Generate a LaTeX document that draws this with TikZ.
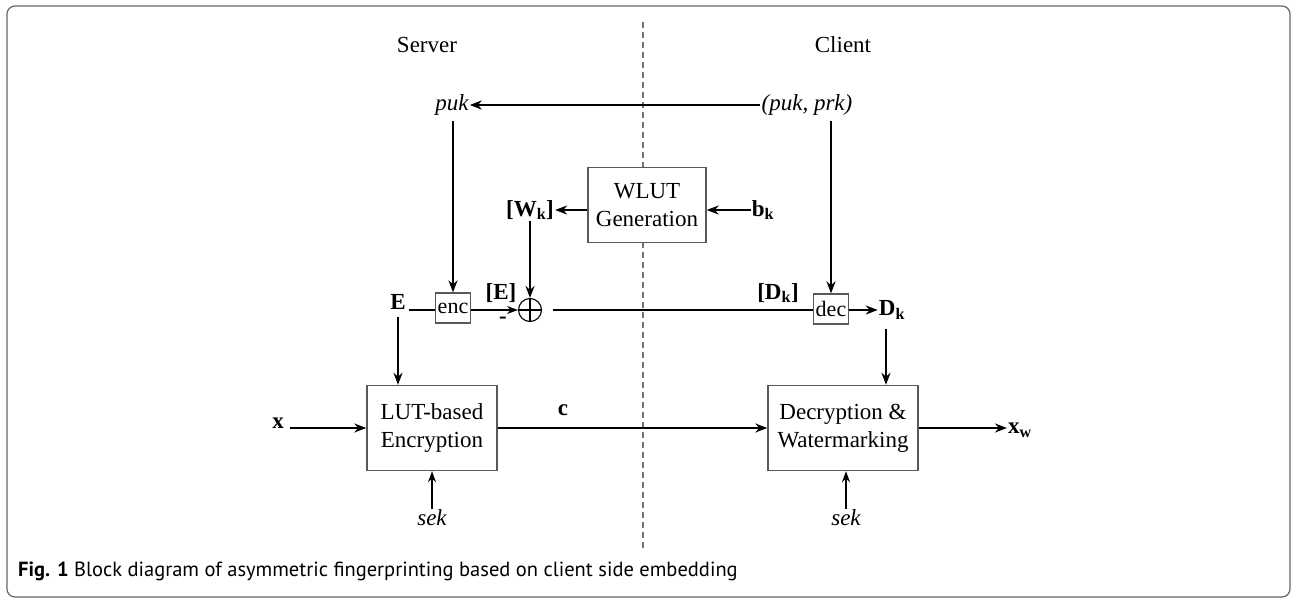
\documentclass[tikz,border=0pt]{standalone}
\usepackage{fontspec}
\setmainfont{Liberation Serif}
\newfontfamily\capfont{PT Sans}
\usetikzlibrary{arrows.meta}
\begin{document}
\begin{tikzpicture}[x=1pt,y=-1pt,
 lbl/.style={inner sep=1pt, font=\fontsize{23}{25}\selectfont},
 blbl/.style={inner sep=1pt, font=\fontsize{23}{25}\selectfont\bfseries},
 ilbl/.style={inner sep=1pt, font=\fontsize{23}{25}\selectfont\itshape},
 bigbox/.style={draw=black!65, line width=1.4pt, fill=white, align=center, inner sep=0pt, font=\fontsize{23}{28}\selectfont},
 smallbox/.style={draw=black!65, line width=1.2pt, fill=white, minimum width=35pt, minimum height=30pt, inner sep=0pt, font=\fontsize{22}{24}\selectfont},
 arr/.style={line width=2pt, -{Stealth[length=12pt,width=9pt]}},
 tarr/.style={line width=1.2pt, -{Stealth[length=11pt,width=8pt]}},
 sarr/.style={line width=1.5pt, -{Stealth[length=11pt,width=8pt]}},
 sepline/.style={draw=black!55, line width=1.4pt, dash pattern=on 6pt off 4pt},
]
\useasboundingbox (0,0) rectangle (1292,599);
\draw[black!60, line width=1.2pt, rounded corners=8pt] (7,6) rectangle (1290,597);

% separator
\coordinate (septop) at (643,22);
\coordinate (sepbot) at (643,548);
\draw[sepline] (septop) -- (sepbot);

% labels
\node[lbl] (server) at (427,45) {Server};
\node[lbl] (client) at (843,45) {Client};
\node[ilbl] (puk) at (452,105) {puk};
\node[ilbl] (pp) at (807,105) {(puk, prk)};

% boxes
\node[bigbox, minimum width=118pt, minimum height=75pt] (wlut) at (647,205) {WLUT\\Generation};
\node[bigbox, minimum width=130pt, minimum height=85pt] (lut) at (432,428) {LUT-based\\Encryption};
\node[bigbox, minimum width=150pt, minimum height=85pt] (dw) at (843,428) {Decryption \&\\Watermarking};
\node[smallbox] (enc) at (453,308) {enc};
\node[smallbox] (dec) at (831,309) {dec};
\node[draw, circle, line width=1.1pt, minimum size=23pt, inner sep=0pt] (plus) at (530,310) {};
\draw[line width=1.1pt] (plus.north) -- (plus.south) (plus.west) -- (plus.east);

% bold labels
\node[blbl] (E) at (398,302) {E};
\node[blbl] (Eb) at (501,293) {[E]};
\node[blbl] (minus) at (503,320) {-};
\node[blbl] (Wk) at (530,210) {[W\textsubscript{k}]};
\node[blbl] (bk) at (763,210) {b\textsubscript{k}};
\node[blbl] (Dkb) at (778,293) {[D\textsubscript{k}]};
\node[blbl] (Dk) at (892,310) {D\textsubscript{k}};
\node[blbl] (xin) at (278,423) {x};
\node[blbl] (c) at (563,410) {c};
\node[blbl] (xw) at (1020,430) {x\textsubscript{w}};
\node[ilbl] (sek1) at (432,518) {sek};
\node[ilbl] (sek2) at (846,518) {sek};

% connectors
\path (dw.north) ++(43,0) coordinate (dwtop);
\draw[arr] (pp.west) -- (puk.east);
\draw[arr] (puk.south -| enc.north) ++(0,4) -- (enc.north);
\draw[arr] (pp.south -| dec.north) ++(0,4) -- (dec.north);
\draw[line width=1.2pt] (E.east |- plus) ++(2,0) -- (enc.west |- plus);
\draw[tarr] (enc.east |- plus) -- (plus.west);
\draw[arr] (wlut.west |- Wk.east) -- (Wk.east);
\draw[arr] (bk.west) -- (wlut.east |- bk.west);
\draw[arr] (Wk.south) -- (plus.north);
\draw[line width=2pt] (plus.east) ++(11,0) -- (dec.west |- plus.east);
\draw[arr] (dec.east |- plus) -- (Dk.west |- plus);
\draw[arr] (E.south) ++(0,6) -- (E.south |- lut.north);
\draw[arr] (Dk.south -| dwtop) ++(0,8) -- (dwtop);
\draw[arr] (xin.east |- lut.west) ++(5,0) -- (lut.west);
\draw[arr] (lut.east) -- (dw.west);
\draw[arr] (dw.east) -- (xw.west |- dw.east);
\draw[sarr] (sek1.north) -- (lut.south);
\draw[sarr] (sek2.north) -- (sek2.north |- dw.south);

% caption
\node[anchor=west, inner sep=0pt, font=\capfont\fontsize{20.5}{22}\selectfont] (cap) at (18,571) {\textbf{Fig. 1} Block diagram of asymmetric fingerprinting based on client side embedding};
\end{tikzpicture}
\end{document}
